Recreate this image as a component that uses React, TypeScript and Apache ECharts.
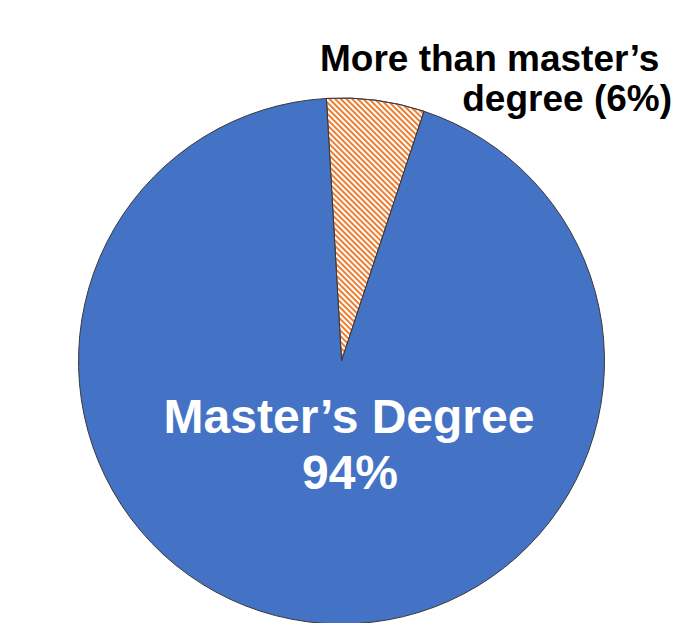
import React, { useEffect, useRef } from "react";
import * as echarts from "echarts";

const categories = ["More than master’s degree", "Master’s Degree"];
const values = [6, 94];
const mainLabelLines = ["Master’s Degree", "94%"];
const sideLabelLines = ["More than master’s", "degree (6%)"];

export default function App() {
  const ref = useRef<HTMLDivElement>(null);
  useEffect(() => {
    document.body.style.margin = "0";
    if (!ref.current) return;
    const chart = echarts.init(ref.current, undefined, { renderer: "svg" });
    const font = "'Liberation Sans', Arial, sans-serif";
    chart.setOption({
      animation: false,
      backgroundColor: "#ffffff",
      series: [
        {
          type: "pie",
          center: [341.5, 361],
          radius: [0, 263],
          startAngle: 93.3,
          clockwise: true,
          z: 2,
          label: { show: false },
          labelLine: { show: false },
          emphasis: { disabled: true },
          data: categories.map((name, i) => ({
            name,
            value: values[i],
            itemStyle:
              i === 0
                ? {
                    color: "#ffffff",
                    borderColor: "#3a3a3a",
                    borderWidth: 1,
                    decal: {
                      symbol: "rect",
                      symbolSize: 1,
                      color: "#ED7D31",
                      backgroundColor: "#ffffff",
                      dashArrayX: [1, 0],
                      dashArrayY: [2, 2],
                      rotation: Math.PI / 4,
                    },
                  }
                : { color: "#4472C4", borderColor: "#3a3a3a", borderWidth: 1 },
          })),
        },
      ],
      graphic: [
        {
          type: "text",
          z: 100,
          x: 349,
          y: 392,
          style: {
            text: mainLabelLines[0],
            fill: "#ffffff",
            font: `bold 48px ${font}`,
            textAlign: "center",
            textVerticalAlign: "top",
          },
        },
        {
          type: "text",
          z: 100,
          x: 350,
          y: 448,
          style: {
            text: mainLabelLines[1],
            fill: "#ffffff",
            font: `bold 48px ${font}`,
            textAlign: "center",
            textVerticalAlign: "top",
          },
        },
        {
          type: "text",
          z: 100,
          x: 320,
          y: 40,
          style: {
            text: sideLabelLines[0],
            fill: "#000000",
            font: `bold 37px ${font}`,
            textAlign: "left",
            textVerticalAlign: "top",
          },
        },
        {
          type: "text",
          z: 100,
          x: 672,
          y: 80,
          style: {
            text: sideLabelLines[1],
            fill: "#000000",
            font: `bold 37px ${font}`,
            textAlign: "right",
            textVerticalAlign: "top",
          },
        },
      ],
    });
    return () => chart.dispose();
  }, []);
  return <div ref={ref} style={{ width: 691, height: 623 }} />;
}
